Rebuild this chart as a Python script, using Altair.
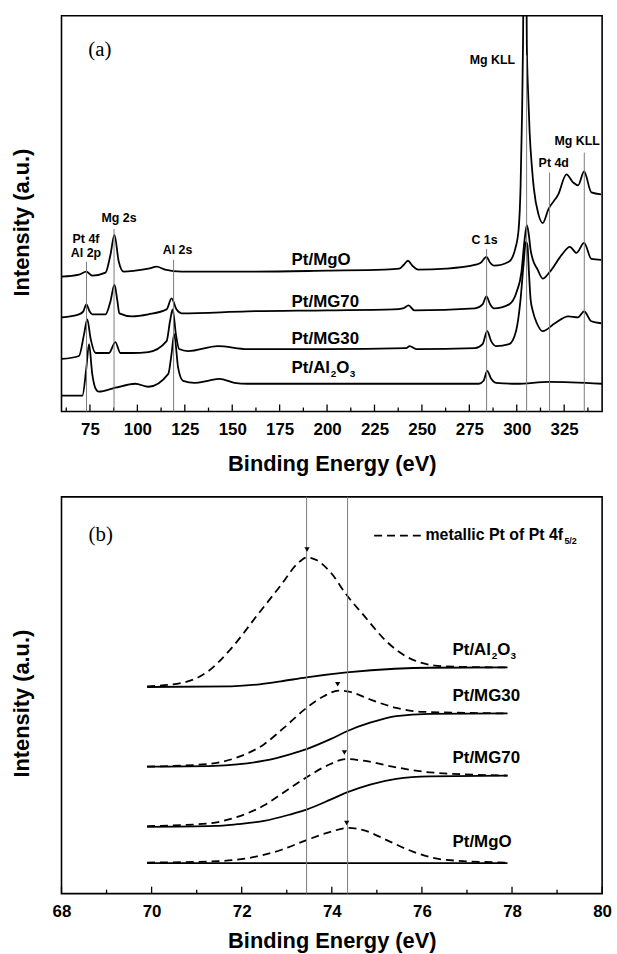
import altair as alt
import pandas as pd

FONT = "Liberation Sans"
SERIF = "Liberation Serif"

# ---------------- Panel (a): survey spectra ----------------
SAMPLES = ["Pt/MgO", "Pt/MG70", "Pt/MG30", "Pt/Al2O3"]

mgo_ev = [60, 69.2, 73.1, 76.2, 83.2, 85.8, 87.9, 90.2, 92.8, 98.9,
          105.8, 110.2, 114.6, 123.3, 158, 200, 230, 238, 240.5, 242.6,
          245, 248, 262.6, 278.3, 281, 284, 286, 288, 295.8, 299.2,
          301, 302, 302.8, 303.3, 304.3, 305.3, 306.0, 306.8, 308, 309,
          311.4, 313.7, 316.7, 321.9, 326.2, 329.7, 332.3, 335.5, 339.3, 344.5]
mgo_i = [136, 138, 141, 137, 140, 158, 178, 151, 141, 142,
         144, 146, 143, 141, 141, 142, 143, 144, 148, 152,
         147, 143, 144, 148, 150, 156, 150, 147, 151, 164,
         184, 226, 301, 371, 661, 371, 321, 281, 246, 225,
         199, 190, 204, 219, 239, 231, 228, 242, 221, 219]

mg70_ev = [60, 69.2, 71.5, 73.1, 74.8, 76.2, 83.2, 85.8, 87.9, 89.5,
           90.5, 97.1, 105.8, 115.4, 118, 120.6, 123.3, 158, 200, 235,
           240, 243, 246, 278, 282, 284, 286, 288, 296, 300,
           302.5, 304, 305.3, 306.3, 307.3, 308.5, 311, 313.7, 317.5, 323.7,
           328, 331.5, 335.5, 339.3, 344.5]
mg70_i = [95, 98, 101, 108, 101, 98, 98, 111, 128, 111,
          99, 96, 98, 103, 114, 103, 99, 101, 102, 103,
          104, 107, 102, 104, 108, 116, 108, 104, 108, 121,
          141, 171, 188, 179, 163, 153, 143, 134, 141, 158,
          166, 160, 170, 154, 153]

mg30_ev = [60, 69.2, 71.9, 73.6, 75.3, 78, 85, 88.4, 91, 97.1,
           105.8, 115.4, 117.2, 118.6, 120.3, 122, 126.7, 142.4, 158, 200,
           241.7, 243.5, 247, 278, 282, 284.4, 286.5, 289, 296, 299.6,
           301.9, 303.6, 304.8, 305.6, 306.4, 307.3, 308.5, 310.6, 313.7, 320.1,
           327.1, 332.3, 335.5, 339.3, 344.5]
mg30_i = [53, 56, 78, 93, 74, 59, 59, 70, 59, 59,
          60, 71, 91, 103, 78, 63, 61, 66, 63, 63,
          64, 66, 63, 64, 68, 81, 71, 66, 68, 81,
          111, 149, 171, 168, 141, 113, 101, 89, 81, 89,
          96, 95, 101, 91, 89]

al_ev = [60, 71, 73.1, 74.5, 76.2, 78, 79.7, 88.4, 98.9, 105.8,
         116.3, 118, 119.4, 121.5, 124.1, 130.2, 137.2, 143.3, 151.2, 158,
         200, 280, 282.5, 284.4, 286.5, 289, 300, 317, 345]
al_i = [16, 16, 44, 68, 38, 23, 20, 24, 28, 25,
        38, 58, 78, 44, 31, 29, 31, 33, 29, 28,
        28, 28, 31, 41, 33, 29, 28, 30, 28]

# reference lines (position, top of line)
ref_ev = [73.2, 87.7, 119.1, 284.1, 305.2, 317.3, 335.6]
ref_top = [151, 184, 153, 164, 359, 241, 261]

# peak annotations
ann_a_text = ["Pt 4f", "Al 2p", "Mg 2s", "Al 2s", "C 1s", "Mg KLL", "Pt 4d", "Mg KLL"]
ann_a_ev = [72.9, 72.9, 90.3, 121.2, 283.0, 287.2, 319.5, 331.8]
ann_a_i = [174, 160, 195, 163, 173, 354, 251, 273]

# sample names (a)
name_a_ev = 181.3
name_a_i = [153, 110, 73, 44]

major_a = [75, 100, 125, 150, 175, 200, 225, 250, 275, 300, 325]
minor_a = [62.5, 87.5, 112.5, 137.5, 162.5, 187.5, 212.5, 237.5, 262.5, 287.5, 312.5, 337.5]

# ---------------- Panel (b): Pt 4f fits ----------------
al_bg_ev = [69.9, 71.77, 72.4, 72.87, 73.44, 74.33, 75.4, 76.2, 77.9]
al_bg_i = [208.3, 209, 211, 214, 218, 223, 226.7, 227.7, 228]
al_pk_ev = [69.9, 70.66, 71.25, 71.77, 72.35, 72.87, 73.23, 73.45, 73.67, 73.97,
            74.33, 74.7, 75.22, 75.58, 76.02, 76.54, 77.9]
al_pk_i = [209, 212.3, 224, 247.3, 281, 311, 332.3, 339, 336, 324,
           301, 281, 254, 241, 232.3, 229, 228]

m30_bg_ev = [69.9, 71.4, 71.9, 72.5, 73.09, 73.44, 73.97, 74.35, 74.85, 75.43, 76.17, 77.9]
m30_bg_i = [128, 128.8, 130.3, 134, 140.7, 145.7, 155.7, 164, 172.3, 179, 181.3, 181.7]
m30_pk_ev = [69.9, 71.25, 71.9, 72.5, 72.94, 73.44, 73.82, 74.15, 74.41, 74.85, 75.43, 76.02, 77.9]
m30_pk_i = [128, 130.7, 137.3, 150.7, 167.3, 187.3, 199, 204.7, 203.3, 195.7, 187.3, 183.3, 181.7]

m70_bg_ev = [69.9, 71.4, 71.9, 72.5, 73.09, 73.44, 73.97, 74.35, 74.85, 75.43, 76.17, 77.9]
m70_bg_i = [67.3, 68.2, 70, 73.3, 80, 84.7, 94.7, 102.3, 110, 115.7, 118.3, 119]
m70_pk_ev = [69.9, 71.25, 71.9, 72.5, 72.94, 73.44, 73.97, 74.3, 74.7, 75.43, 76.17, 77.9]
m70_pk_i = [68, 70.7, 77.3, 89, 102.3, 117.3, 130.7, 135.7, 134, 127.3, 122.3, 119]

mgo_bg_ev = [69.9, 77.9]
mgo_bg_i = [30.7, 30.7]
mgo_pk_ev = [69.9, 71.25, 72.13, 72.87, 73.44, 73.97, 74.37, 74.7, 75.22, 75.8, 76.54, 77.9]
mgo_pk_i = [31.3, 32.3, 35.7, 44, 54, 62.3, 66.3, 64, 54, 42.3, 34, 31.3]

marker_ev = [73.45, 74.13, 74.28, 74.33]
marker_i = [347, 211, 142.3, 71.3]

ref_b_ev = [73.44, 74.35]
name_b_ev = 76.68
name_b_i = [246, 199, 136.3, 52.3]

legend_ev = [74.94, 76.0]
legend_i = 361

major_b = [68, 70, 72, 74, 76, 78, 80]
minor_b = [69, 71, 73, 75, 77, 79]

# ---------------- helpers ----------------
W = 545
HA, HB = 399, 400


def xy(ev, i, **extra):
    d = pd.DataFrame({"x": ev, "y": i})
    for k, v in extra.items():
        d[k] = v
    return d


def text_layer(df, size, dx=0, dy=0, align="left", font=FONT, weight="bold"):
    return alt.Chart(df).mark_text(
        font=font, fontSize=size, fontWeight=weight, align=align,
        baseline="middle", dx=dx, dy=dy, color="black"
    ).encode(x=alt.X("x:Q"), y=alt.Y("y:Q"), text="t:N")


def panel(lines, xscale, yscale, xvals, minor, height, xtitle, extra, title_pad):
    xenc = alt.X("x:Q", scale=xscale,
                 axis=alt.Axis(values=xvals, format="d", title=xtitle,
                               labelPadding=10, titlePadding=title_pad,
                               labelOverlap=False, labelFlush=False, labelBound=False))
    yenc = alt.Y("y:Q", scale=yscale,
                 axis=alt.Axis(labels=False, ticks=False, domain=False, grid=False,
                               title="Intensity (a.u.)", titleX=-28, titleY=208))
    base_layers = []
    for df, dash, width in lines:
        kw = dict(color="black", strokeWidth=width, interpolate="monotone", clip=True)
        if dash:
            kw["strokeDash"] = dash
        base_layers.append(alt.Chart(df).mark_line(**kw).encode(x=xenc, y=yenc, detail="s:N"))
    ticks_major = alt.Chart(pd.DataFrame({"x": xvals})).mark_rule(
        color="black", strokeWidth=1.3).encode(
        x=alt.X("x:Q"), y=alt.value(height), y2=alt.value(height - 7))
    ticks_minor = alt.Chart(pd.DataFrame({"x": minor})).mark_rule(
        color="black", strokeWidth=1.3).encode(
        x=alt.X("x:Q"), y=alt.value(height), y2=alt.value(height - 4))
    return alt.layer(*base_layers, ticks_major, ticks_minor, *extra).properties(
        width=W, height=height)


# ---------------- build panel (a) ----------------
xa = alt.Scale(domain=[60, 345], nice=False, zero=False)
ya = alt.Scale(domain=[0, HA], nice=False, zero=False)

spectra = pd.concat([
    xy(mgo_ev, mgo_i, s=SAMPLES[0]),
    xy(mg70_ev, mg70_i, s=SAMPLES[1]),
    xy(mg30_ev, mg30_i, s=SAMPLES[2]),
    xy(al_ev, al_i, s=SAMPLES[3]),
])

refs_a = alt.Chart(pd.DataFrame({"x": ref_ev, "y": [0] * len(ref_ev), "y2": ref_top})).mark_rule(
    color="#7a7a7a", strokeWidth=1).encode(x="x:Q", y="y:Q", y2="y2:Q")

ann_a = text_layer(pd.DataFrame({"x": ann_a_ev, "y": ann_a_i, "t": ann_a_text}), 12.5, align="center")

names_a_main = pd.DataFrame({"x": [name_a_ev] * 4, "y": name_a_i,
                             "t": ["Pt/MgO", "Pt/MG70", "Pt/MG30", "Pt/Al"]})
layers_a_extra = [
    refs_a,
    ann_a,
    text_layer(names_a_main, 17),
    text_layer(pd.DataFrame({"x": [name_a_ev], "y": [name_a_i[3]], "t": ["2"]}), 10, dx=39.5, dy=6),
    text_layer(pd.DataFrame({"x": [name_a_ev], "y": [name_a_i[3]], "t": ["O"]}), 17, dx=45),
    text_layer(pd.DataFrame({"x": [name_a_ev], "y": [name_a_i[3]], "t": ["3"]}), 10, dx=58.5, dy=6),
    text_layer(pd.DataFrame({"x": [80.2], "y": [364], "t": ["(a)"]}), 21, align="center",
               font=SERIF, weight="normal"),
]

chart_a = panel([(spectra, None, 1.8)], xa, ya, major_a, minor_a, HA,
                "Binding Energy (eV)", layers_a_extra, 16)

# ---------------- build panel (b) ----------------
xb = alt.Scale(domain=[68, 80], nice=False, zero=False)
yb = alt.Scale(domain=[0, HB], nice=False, zero=False)

bgs = pd.concat([
    xy(al_bg_ev, al_bg_i, s="Al"), xy(m30_bg_ev, m30_bg_i, s="M30"),
    xy(m70_bg_ev, m70_bg_i, s="M70"), xy(mgo_bg_ev, mgo_bg_i, s="MgO"),
])
pks = pd.concat([
    xy(al_pk_ev, al_pk_i, s="Al"), xy(m30_pk_ev, m30_pk_i, s="M30"),
    xy(m70_pk_ev, m70_pk_i, s="M70"), xy(mgo_pk_ev, mgo_pk_i, s="MgO"),
])
legend_line = xy(legend_ev, [legend_i, legend_i], s="leg")

refs_b = alt.Chart(pd.DataFrame({"x": ref_b_ev})).mark_rule(
    color="#7a7a7a", strokeWidth=1).encode(x="x:Q")

markers = alt.Chart(xy(marker_ev, marker_i)).mark_point(
    shape="triangle-down", filled=True, color="black", size=28, opacity=1).encode(
    x="x:Q", y="y:Q")

names_b_main = pd.DataFrame({"x": [name_b_ev] * 4, "y": name_b_i,
                             "t": ["Pt/Al", "Pt/MG30", "Pt/MG70", "Pt/MgO"]})
layers_b_extra = [
    refs_b,
    markers,
    text_layer(names_b_main, 17),
    text_layer(pd.DataFrame({"x": [name_b_ev], "y": [name_b_i[0]], "t": ["2"]}), 10, dx=39.5, dy=6),
    text_layer(pd.DataFrame({"x": [name_b_ev], "y": [name_b_i[0]], "t": ["O"]}), 17, dx=45),
    text_layer(pd.DataFrame({"x": [name_b_ev], "y": [name_b_i[0]], "t": ["3"]}), 10, dx=58.5, dy=6),
    text_layer(pd.DataFrame({"x": [76.08], "y": [legend_i], "t": ["metallic Pt of Pt 4f"]}), 16),
    text_layer(pd.DataFrame({"x": [76.08], "y": [legend_i], "t": ["5/2"]}), 9, dx=140, dy=6),
    text_layer(pd.DataFrame({"x": [68.87], "y": [legend_i], "t": ["(b)"]}), 21, align="center",
               font=SERIF, weight="normal"),
]

chart_b = panel([(bgs, None, 1.8), (pks, [8, 5], 1.8), (legend_line, [8, 5], 1.8)],
                xb, yb, major_b, minor_b, HB, "Binding Energy (eV)", layers_b_extra, 11)

chart = alt.vconcat(chart_a, chart_b, spacing=20).properties(
    padding={"left": 10, "top": 11, "right": 4, "bottom": 0},
    background="white"
).configure_view(stroke="black", strokeWidth=1.6).configure_axis(
    labelFont=FONT, labelFontSize=17, labelFontWeight="bold", labelColor="black",
    titleFont=FONT, titleFontSize=22, titleFontWeight="bold", titleColor="black",
    grid=False, domain=False, ticks=False
)

chart.save("out.html", embed_options={"renderer": "svg", "actions": False})
